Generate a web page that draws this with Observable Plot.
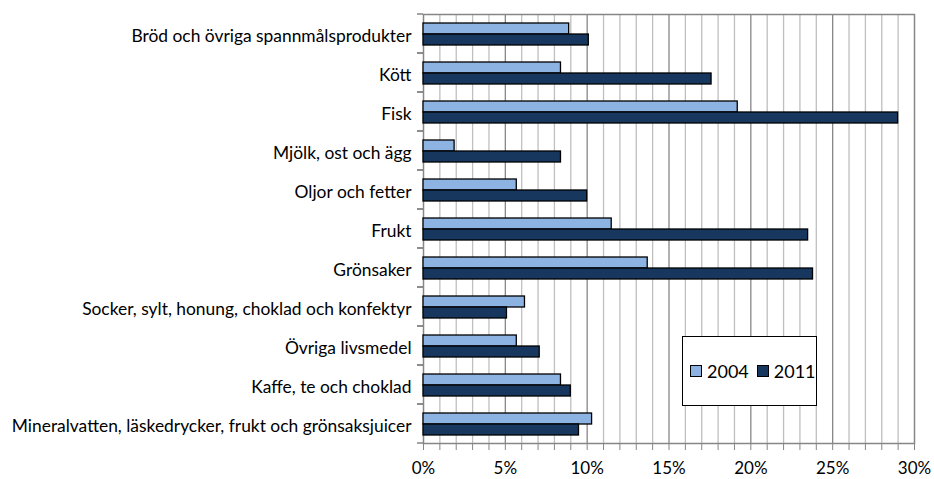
<!DOCTYPE html>
<html>
<head>
<meta charset="utf-8">
<script src="https://cdn.jsdelivr.net/npm/d3@7"></script>
<script src="https://cdn.jsdelivr.net/npm/@observablehq/plot@0.6"></script>
<style>
  body { margin: 0; background: #fff; }
  #wrap { position: relative; width: 934px; height: 479px; font-family: Lato, "Open Sans", sans-serif; }
  #legend { position: absolute; left: 682px; top: 336px; width: 133px; height: 68px; border: 1.5px solid #000; background: #fff;
            display: flex; align-items: center; font-size: 18px; color: #000; white-space: nowrap; overflow: hidden; }
  #legend .item { display: flex; align-items: center; margin-left: 7px; }
  #legend .item + .item { margin-left: 8px; }
  #legend .sw { width: 10px; height: 10px; border: 1.3px solid #000; margin-right: 5px; }
</style>
</head>
<body>
<div id="wrap"><div id="legend"></div></div>
<script>
const categories = [
  "Bröd och övriga spannmålsprodukter",
  "Kött",
  "Fisk",
  "Mjölk, ost och ägg",
  "Oljor och fetter",
  "Frukt",
  "Grönsaker",
  "Socker, sylt, honung, choklad och konfektyr",
  "Övriga livsmedel",
  "Kaffe, te och choklad",
  "Mineralvatten, läskedrycker, frukt och grönsaksjuicer"
];
const years = ["2004", "2011"];
const values2004 = [8.9, 8.4, 19.2, 1.9, 5.7, 11.5, 13.7, 6.2, 5.7, 8.4, 10.3];
const values2011 = [10.1, 17.6, 29.0, 8.4, 10.0, 23.5, 23.8, 5.1, 7.1, 9.0, 9.5];
const colors = ["#8db3e2", "#17375e"];
const minorTicks = d3.range(0, 31, 1);
const majorTicks = d3.range(0, 31, 5);

const data = categories.flatMap((c, i) => [
  {cat: c, year: years[0], value: values2004[i]},
  {cat: c, year: years[1], value: values2011[i]}
]);

// small tick marks on the category axis at the edges of each category band (rendered per facet)
function bandEdgeTicks(index, scales, values, dims) {
  const g = d3.create("svg:g").attr("stroke", "#868686").attr("stroke-width", 1.5);
  const x0 = scales.x(0);
  const top = dims.marginTop, bottom = dims.height - dims.marginBottom;
  for (const e of [top, bottom]) {
    g.append("line").attr("x1", x0 - 6).attr("x2", x0).attr("y1", e).attr("y2", e);
  }
  return g.node();
}

const chart = Plot.plot({
  width: 934,
  height: 479,
  marginLeft: 423,
  marginRight: 20,
  marginTop: 14,
  marginBottom: 36,
  style: {fontFamily: "Lato, 'Open Sans', sans-serif", fontSize: "17.4px", color: "#000", background: "#fff"},
  x: {domain: [0, 30], label: null},
  y: {domain: years, paddingInner: 0, paddingOuter: 0.77, axis: null},
  fy: {domain: categories, padding: 0, label: null},
  color: {domain: years, range: colors},
  marks: [
    Plot.gridX(minorTicks.filter(d => d % 5 !== 0), {stroke: "#bfbfbf", strokeOpacity: 1, strokeWidth: 1.3}),
    Plot.gridX(majorTicks.filter(d => d > 0 && d < 30), {stroke: "#878787", strokeOpacity: 1, strokeWidth: 1.3}),
    Plot.frame({facet: "super", stroke: "#868686", strokeWidth: 1.5}),
    Plot.barX(data, {x: "value", y: "year", fy: "cat", fill: "year", stroke: "#000", strokeWidth: 1.3}),
    Plot.axisX({ticks: minorTicks, tickSize: 7, tickPadding: 11, stroke: "#868686",
                tickFormat: d => d % 5 === 0 ? d + "%" : "", fontSize: 17}),
    Plot.axisFy({anchor: "left", tickSize: 0, tickPadding: 12, dy: 2, label: null}),
    bandEdgeTicks
  ]
});
document.getElementById("wrap").prepend(chart);

const legend = d3.select("#legend");
years.forEach((y, i) => {
  const it = legend.append("div").attr("class", "item");
  it.append("div").attr("class", "sw").style("background", colors[i]);
  it.append("span").text(y);
});
</script>
</body>
</html>
